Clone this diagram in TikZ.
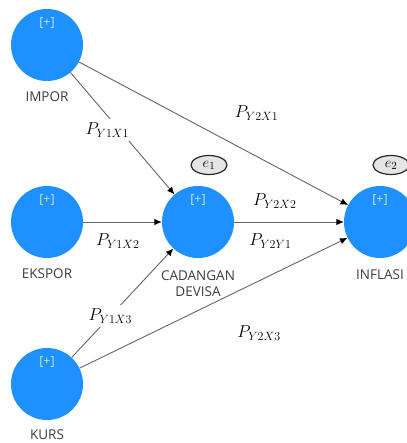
\documentclass[tikz,border=0pt]{standalone}
\usepackage{fontspec}
\setsansfont{Open Sans}
\usetikzlibrary{arrows.meta,shapes.geometric}
\definecolor{varblue}{RGB}{30,144,255}
\definecolor{txtgray}{RGB}{60,60,60}
\definecolor{linegray}{RGB}{100,100,100}
\begin{document}
\begin{tikzpicture}[x=1pt,y=-1pt,
latent/.style={circle,fill=varblue,minimum size=72pt,inner sep=0pt},
vname/.style={font=\sffamily\fontsize{13.5}{16}\selectfont,text=txtgray,align=center,inner sep=1pt},
plus/.style={font=\sffamily\fontsize{12.5}{14}\selectfont,text=white!75!varblue},
err/.style={ellipse,draw=black!85,line width=1.2pt,fill=black!10,minimum width=36pt,minimum height=19pt,inner sep=0pt,font=\fontsize{15}{17}\selectfont},
coef/.style={font=\fontsize{16.5}{19}\selectfont,inner sep=2pt},
link/.style={draw=linegray,line width=0.9pt,-{Latex[length=7.5pt,width=6.5pt,color=black]}}]
\useasboundingbox (0,0) rectangle (406,443);

% variables
\node[latent] (impor) at (47,45) {};
\node[latent] (ekspor) at (47,222) {};
\node[latent] (kurs) at (47,384) {};
\node[latent] (cadangan) at (198,222) {};
\node[latent] (inflasi) at (380,222) {};

\node[plus] (impor+) at (47,23) {[+]};
\node[plus] (ekspor+) at (47,200) {[+]};
\node[plus] (kurs+) at (47,362) {[+]};
\node[plus] (cadangan+) at (198,200) {[+]};
\node[plus] (inflasi+) at (380,200) {[+]};

\node[vname] (imporlbl) at (47,97) {IMPOR};
\node[vname] (eksporlbl) at (47,274) {EKSPOR};
\node[vname] (kurslbl) at (47,435) {KURS};
\node[vname] (cadanganlbl) at (198,284) {CADANGAN\\DEVISA};
\node[vname] (inflasilbl) at (380,275) {INFLASI};

% error terms
\node[err] (e1) at (209,165) {$e_1$};
\node[err] (e2) at (391,165) {$e_2$};

% paths
\draw[link] (impor) -- node[coef,fill=white,pos=0.47,xshift=-12pt,inner sep=4pt] (p11) {$P_{Y1X1}$} (cadangan);
\draw[link] (ekspor) -- node[coef,pos=0.44,yshift=-19pt] (p12) {$P_{Y1X2}$} (cadangan);
\draw[link] (kurs) -- node[coef,fill=white,pos=0.38,inner sep=4pt] (p13) {$P_{Y1X3}$} (cadangan);
\draw[link] (impor) -- node[coef,pos=0.66,yshift=43pt] (p21) {$P_{Y2X1}$} (inflasi);
\draw[link] (cadangan) -- node[coef,pos=0.37,yshift=21pt] (p22) {$P_{Y2X2}$}
  node[coef,pos=0.33,yshift=-19pt] (p2y) {$P_{Y2Y1}$} (inflasi);
\draw[link] (kurs) -- node[coef,pos=0.67,yshift=-52pt] (p23) {$P_{Y2X3}$} (inflasi);
\end{tikzpicture}
\end{document}
